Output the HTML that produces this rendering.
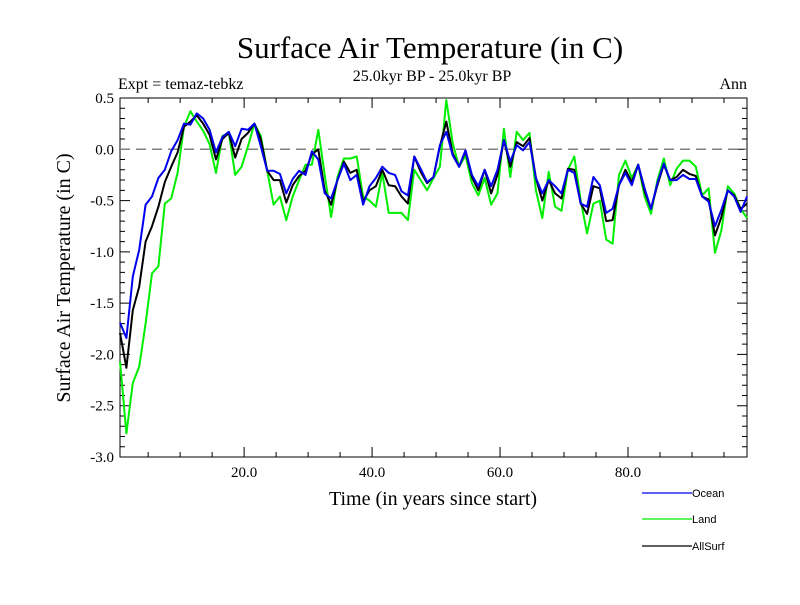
<!DOCTYPE html>
<html><head><meta charset="utf-8"><style>
body{margin:0;background:#fff}
svg text{font-family:"Liberation Serif",serif}
</style></head><body>
<svg id="c" width="800" height="600" xmlns="http://www.w3.org/2000/svg">
<text x="430" y="58" font-size="31" text-anchor="middle">Surface Air Temperature (in C)</text>
<text x="432" y="81" font-size="16" text-anchor="middle">25.0kyr BP - 25.0kyr BP</text>
<text x="118" y="89" font-size="16">Expt = temaz-tebkz</text>
<text x="747" y="89" font-size="16" text-anchor="end">Ann</text>
<text x="433" y="505" font-size="20" text-anchor="middle">Time (in years since start)</text>
<text transform="translate(70,278) rotate(-90)" font-size="20" text-anchor="middle">Surface Air Temperature (in C)</text>
<g id="axes"></g>
<g id="series"></g>
<g id="legend"></g>
</svg>
<script>
const xTicks=[20,40,60,80];
const xTickLabels=["20.0","40.0","60.0","80.0"];
const yTicks=[0.5,0,-0.5,-1,-1.5,-2,-2.5,-3];
const yTickLabels=["0.5","0.0","-0.5","-1.0","-1.5","-2.0","-2.5","-3.0"];
const ocean=[-1.69,-1.84,-1.24,-0.98,-0.54,-0.46,-0.28,-0.20,-0.02,0.09,0.25,0.24,0.35,0.30,0.19,-0.03,0.12,0.17,0.03,0.20,0.19,0.25,0.03,-0.21,-0.21,-0.24,-0.43,-0.29,-0.21,-0.25,-0.02,-0.10,
-0.43,-0.48,-0.30,-0.14,-0.30,-0.25,-0.54,-0.36,-0.28,-0.17,-0.23,-0.25,-0.41,-0.45,-0.07,-0.19,-0.32,-0.27,0.04,0.17,-0.06,-0.17,-0.01,-0.25,-0.36,-0.20,-0.36,-0.20,0.09,-0.12,0.04,-0.01,0.07,
-0.28,-0.43,-0.30,-0.36,-0.43,-0.20,-0.23,-0.53,-0.56,-0.27,-0.35,-0.62,-0.58,-0.35,-0.23,-0.35,-0.15,-0.38,-0.58,-0.33,-0.14,-0.30,-0.30,-0.25,-0.29,-0.29,-0.46,-0.51,-0.75,-0.59,-0.40,-0.46,-0.61,-0.46];
const land=[-2.07,-2.77,-2.28,-2.12,-1.70,-1.21,-1.14,-0.53,-0.48,-0.23,0.22,0.37,0.27,0.18,0.05,-0.23,0.13,0.16,-0.25,-0.17,0.03,0.25,0.13,-0.21,-0.54,-0.46,-0.69,-0.46,-0.30,-0.15,-0.15,0.19,
-0.25,-0.66,-0.27,-0.09,-0.09,-0.07,-0.46,-0.50,-0.56,-0.23,-0.62,-0.62,-0.62,-0.69,-0.20,-0.30,-0.40,-0.28,-0.17,0.48,0.06,-0.17,-0.06,-0.33,-0.45,-0.28,-0.54,-0.43,0.20,-0.27,0.17,0.09,0.16,
-0.40,-0.67,-0.22,-0.56,-0.60,-0.20,-0.07,-0.50,-0.82,-0.53,-0.50,-0.88,-0.92,-0.25,-0.11,-0.28,-0.15,-0.46,-0.63,-0.30,-0.09,-0.35,-0.19,-0.11,-0.11,-0.17,-0.45,-0.38,-1.01,-0.79,-0.36,-0.43,-0.58,-0.67];
const allSurf=[-1.79,-2.13,-1.57,-1.34,-0.90,-0.75,-0.56,-0.32,-0.17,-0.03,0.22,0.27,0.33,0.25,0.14,-0.10,0.10,0.16,-0.08,0.10,0.16,0.25,0.10,-0.21,-0.30,-0.30,-0.52,-0.35,-0.26,-0.21,-0.05,0.0,
-0.40,-0.54,-0.30,-0.12,-0.23,-0.20,-0.51,-0.40,-0.36,-0.20,-0.35,-0.36,-0.46,-0.53,-0.07,-0.22,-0.33,-0.27,0.03,0.27,-0.04,-0.17,-0.02,-0.27,-0.40,-0.20,-0.43,-0.25,0.09,-0.17,0.07,0.03,0.11,
-0.28,-0.50,-0.30,-0.43,-0.48,-0.19,-0.20,-0.53,-0.63,-0.36,-0.38,-0.70,-0.69,-0.35,-0.20,-0.32,-0.15,-0.41,-0.58,-0.35,-0.15,-0.30,-0.27,-0.20,-0.24,-0.26,-0.46,-0.49,-0.84,-0.66,-0.40,-0.45,-0.58,-0.53];
const X0=120,X1=747,Y0=98,Y1=457,XMIN=0.6,XMAX=98.6,YMIN=-3,YMAX=0.5;
function sx(t){return X0+(t-XMIN)/(XMAX-XMIN)*(X1-X0);}
function sy(v){return Y1-(v-YMIN)/(YMAX-YMIN)*(Y1-Y0);}
const NS="http://www.w3.org/2000/svg";
function mk(tag,attrs,parent){const e=document.createElementNS(NS,tag);for(const k in attrs)e.setAttribute(k,attrs[k]);parent.appendChild(e);return e;}
const axes=document.getElementById('axes');
const frame=mk('rect',{x:X0,y:Y0,width:X1-X0,height:Y1-Y0,fill:'none',stroke:'#000','stroke-width':1},axes);


let d='';
for(let t=5;t<=XMAX;t+=5){const x=sx(t);const L=(t%20===0)?10:5;d+=`M${x},${Y1}V${Y1-L}M${x},${Y0}V${Y0+L}`;}
for(let k=-30;k<=5;k++){const v=k/10,y=sy(v);const L=(k%5===0)?10:5;d+=`M${X0},${y}H${X0+L}M${X1},${y}H${X1-L}`;}
const tk=mk('path',{d:d,stroke:'#000','stroke-width':1,fill:'none'},axes);


xTicks.forEach((t,i)=>{const e=mk('text',{x:sx(t),y:Y1+20,'font-size':15,'text-anchor':'middle'},axes);e.textContent=xTickLabels[i];

});
yTicks.forEach((v,i)=>{const e=mk('text',{x:X0-6,y:sy(v)+5,'font-size':15,'text-anchor':'end'},axes);e.textContent=yTickLabels[i];

});
const zl=mk('line',{x1:X0,x2:X1,y1:sy(0),y2:sy(0),stroke:'#808080','stroke-width':1.5,'stroke-dasharray':'10,6'},axes);


const ser=document.getElementById('series');
function line(arr,color,name){const pts=arr.map((v,i)=>sx(XMIN+i).toFixed(1)+','+sy(v).toFixed(1)).join(' ');
const p=mk('polyline',{points:pts,fill:'none',stroke:color,'stroke-width':2,'stroke-linejoin':'round'},ser);

}
line(land,'#00ee00','land-line');
line(allSurf,'#000000','allsurf-line');
line(ocean,'#0000ee','ocean-line');
const lg=document.getElementById('legend');
[['Ocean','#0000ee',493],['Land','#00ee00',519],['AllSurf','#000000',546]].forEach(r=>{
const l=mk('line',{x1:642,x2:692,y1:r[2],y2:r[2],stroke:r[1],'stroke-width':1.3},lg);


const t=mk('text',{x:692,y:r[2]+4,'font-size':11,style:'font-family:"Liberation Sans",sans-serif'},lg);t.textContent=r[0];

});
</script>
</body></html>
